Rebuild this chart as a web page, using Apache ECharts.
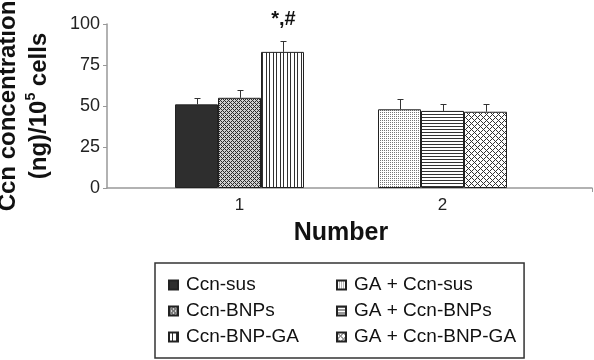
<!DOCTYPE html>
<html>
  <head>
    <meta charset="utf-8" />
    <title>Ccn concentration</title>
  </head>
  <body style="margin:0;background:#fff;">
    <script type="text/javascript" src="https://cdn.jsdelivr.net/npm/echarts@6/dist/echarts.min.js"></script>

    <div id="container" style="width: 594px;height: 360px;"></div>

    <script type="text/javascript">
    // data
    var categories = ['1', '2'];
    var groupOneNames = ['Ccn-sus', 'Ccn-BNPs', 'Ccn-BNP-GA'];
    var groupTwoNames = ['GA + Ccn-sus', 'GA + Ccn-BNPs', 'GA + Ccn-BNP-GA'];
    var groupOneValues = [51, 55, 83];
    var groupOneErrors = [4, 5, 6.5];
    var groupOneMarks = ['', '', '*,#'];
    var groupTwoValues = [48, 47, 46.5];
    var groupTwoErrors = [6, 4.5, 4.5];
    var yTicks = [0, 25, 50, 75, 100];

    var FONT = 'Arial, "Liberation Sans", sans-serif';
    var barWidth = 43;

    // small canvas tiles for the hatch fills
    function makePattern(w, h, bg, fg, test) {
        var c = document.createElement('canvas');
        c.width = w; c.height = h;
        var ctx = c.getContext('2d');
        ctx.fillStyle = bg;
        ctx.fillRect(0, 0, w, h);
        ctx.fillStyle = fg;
        for (var x = 0; x < w; x++) {
            for (var y = 0; y < h; y++) {
                if (test(x, y)) ctx.fillRect(x, y, 1, 1);
            }
        }
        return { image: c, repeat: 'repeat' };
    }

    var fills = [
        '#2e2e2e',
        makePattern(4, 4, '#d0d0d0', '#2a2a2a', function (x, y) { return (x + y) % 4 == 0 || (x - y + 4) % 4 == 0; }),
        makePattern(7, 1, '#ffffff', '#303030', function (x, y) { return x == 0 || x == 3; }),
        makePattern(2, 2, '#ffffff', '#777777', function (x, y) { return x == 0 && y == 0; }),
        makePattern(1, 3, '#ffffff', '#333333', function (x, y) { return y == 0; }),
        makePattern(6, 6, '#ffffff', '#333333', function (x, y) { return (x + y) % 6 == 0 || (x - y + 6) % 6 == 0; })
    ];

    var series = [];
    var errorData = [];
    for (var i = 0; i < 3; i++) {
        series.push({
            type: 'bar', name: groupOneNames[i], stack: 's' + i,
            barWidth: barWidth, barGap: '0%',
            itemStyle: { color: fills[i], borderColor: '#222', borderWidth: 1 },
            data: [groupOneValues[i], null]
        });
        errorData.push([0, groupOneValues[i], groupOneErrors[i], i, groupOneMarks[i]]);
    }
    for (var i = 0; i < 3; i++) {
        series.push({
            type: 'bar', name: groupTwoNames[i], stack: 's' + i,
            barWidth: barWidth, barGap: '0%',
            itemStyle: { color: fills[i + 3], borderColor: '#222', borderWidth: 1 },
            data: [null, groupTwoValues[i]]
        });
        errorData.push([1, groupTwoValues[i], groupTwoErrors[i], i, '']);
    }

    // upper error bar (T) and the significance mark
    series.push({
        type: 'custom', name: 'error', z: 5,
        data: errorData,
        renderItem: function (params, api) {
            var slot = api.value(3);
            var x = Math.round(api.coord([api.value(0), 0])[0] + (slot - 1) * barWidth) + 0.5;
            var yBar = api.coord([api.value(0), api.value(1)])[1];
            var yErr = Math.round(api.coord([api.value(0), api.value(1) + api.value(2)])[1]) + 0.5;
            var children = [
                { type: 'line', shape: { x1: x, y1: yBar, x2: x, y2: yErr }, style: { stroke: '#333', lineWidth: 1 } },
                { type: 'line', shape: { x1: x - 3, y1: yErr, x2: x + 3, y2: yErr }, style: { stroke: '#333', lineWidth: 1 } }
            ];
            var mark = errorData[params.dataIndex][4];
            if (mark) {
                children.push({
                    type: 'text', x: x, y: yErr - 22,
                    style: { text: mark, fill: '#111', font: 'bold 20px ' + FONT, align: 'center', verticalAlign: 'middle' }
                });
            }
            return { type: 'group', children: children };
        }
    });

    var myChart = echarts.init(document.getElementById('container'));
    var option = {
        animation: false,
        legend: {
            data: groupOneNames.concat(groupTwoNames),
            orient: 'vertical',
            left: 155, top: 263, height: 74,
            padding: [12, 8, 11, 13],
            itemWidth: 9, itemHeight: 9, itemGap: 6,
            icon: 'rect',
            borderColor: '#333', borderWidth: 1.5, borderRadius: 0,
            textStyle: { fontFamily: FONT, fontSize: 19, color: '#111', lineHeight: 20, width: 144, padding: [0, 0, 0, 3] }
        },
        grid: [
            { left: 138, right: 50, top: 24, bottom: 172, containLabel: false, outerBoundsMode: 'none' },
            { left: 107, right: 2, top: 24, bottom: 172, containLabel: false, outerBoundsMode: 'none' }
        ],
        xAxis: [{
            type: 'category', gridIndex: 0,
            data: categories,
            axisLine: { show: false },
            axisTick: { show: false },
            axisLabel: { fontFamily: FONT, fontSize: 17, color: '#222', margin: 9 },
            name: 'Number', nameLocation: 'middle', nameGap: 33,
            nameTextStyle: { fontFamily: FONT, fontSize: 25, fontWeight: 'bold', color: '#111' }
        }, {
            type: 'value', gridIndex: 1, min: 0, max: 1,
            axisLine: { show: true, lineStyle: { color: '#999', width: 1.5 } },
            axisTick: { show: true, customValues: [1], length: 4, lineStyle: { color: '#999' } },
            axisLabel: { show: false },
            splitLine: { show: false }
        }],
        yAxis: [{
            type: 'value', gridIndex: 0,
            min: yTicks[0], max: yTicks[yTicks.length - 1], interval: 25,
            offset: 31,
            axisLine: { show: true, lineStyle: { color: '#999', width: 1.5 } },
            axisTick: { show: true, length: 4, lineStyle: { color: '#999' } },
            axisLabel: { fontFamily: FONT, fontSize: 18, color: '#222', margin: 7 },
            splitLine: { show: false },
            name: 'Ccn concentration\n(ng)/10{sup|5} cells',
            nameLocation: 'middle', nameRotate: 90, nameGap: 52,
            nameTextStyle: {
                fontFamily: FONT, fontSize: 24, fontWeight: 'bold', color: '#111', lineHeight: 31, align: 'center',
                rich: { sup: { fontFamily: FONT, fontSize: 14, fontWeight: 'bold', color: '#111', verticalAlign: 'top', lineHeight: 31 } }
            }
        }, {
            type: 'value', gridIndex: 1, show: false, min: 0, max: 100
        }],
        series: series
    };
    myChart.setOption(option);

    window.addEventListener('resize', myChart.resize);
    </script>
  </body>
</html>
